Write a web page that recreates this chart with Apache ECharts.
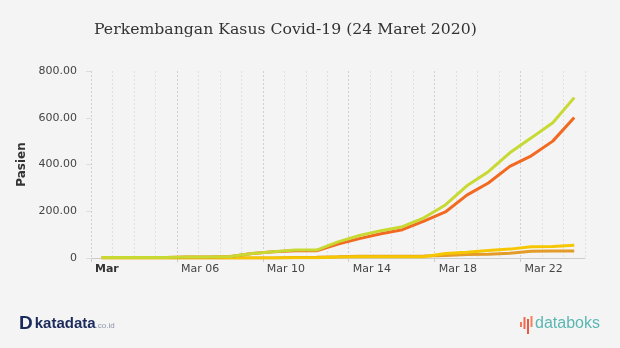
<!DOCTYPE html>
<html>
<head>
<meta charset="utf-8">
<script src="https://cdn.jsdelivr.net/npm/echarts@6/dist/echarts.min.js"></script>
<style>
html,body{margin:0;padding:0;background:#f4f4f4;}
#c{width:620px;height:348px;}
</style>
</head>
<body>
<div id="c"></div>
<script>
// Dates (March 2 .. March 24, 2020)
const dates = ['Mar 02','Mar 03','Mar 04','Mar 05','Mar 06','Mar 07','Mar 08','Mar 09','Mar 10','Mar 11','Mar 12','Mar 13','Mar 14','Mar 15','Mar 16','Mar 17','Mar 18','Mar 19','Mar 20','Mar 21','Mar 22','Mar 23','Mar 24'];
const totalCases = [2,2,2,2,4,4,6,19,27,34,34,69,96,117,134,172,227,309,369,450,514,579,686];
const activeCases = [2,2,2,2,4,4,6,19,27,31,31,60,83,104,121,158,197,269,321,392,437,500,601];
const deaths = [0,0,0,0,0,0,0,0,0,1,1,4,5,5,5,5,19,25,32,38,48,49,55];
const recovered = [0,0,0,0,0,0,0,0,0,2,3,5,8,8,8,9,11,15,16,20,29,30,30];
const xTickIndex = [0,4,8,12,16,20];
const xTickLabels = ['Mar','Mar 06','Mar 10','Mar 14','Mar 18','Mar 22'];
const yTicks = [0,200,400,600,800];

const toPts = arr => arr.map((v,i)=>[i+0.5, v]);

const chart = echarts.init(document.getElementById('c'), null, {renderer:'canvas'});
const mkSeries = (name, arr, color) => ({
  name, type:'line', data: toPts(arr), symbol:'none', smooth:false, xAxisIndex:0,
  lineStyle:{width:3, color}, itemStyle:{color}
});
chart.setOption({
  backgroundColor:'#f4f4f4',
  animation:false,
  title:{
    text:'Perkembangan Kasus Covid-19 (24 Maret 2020)',
    left:89, top:17,
    textStyle:{fontFamily:'DejaVu Serif', fontSize:15.7, fontWeight:'normal', color:'#333'}
  },
  grid:{left:91, right:35, top:71, bottom:90, containLabel:false},
  xAxis:[{
    type:'value', min:0, max:dates.length, interval:1, position:'bottom',
    axisLine:{show:false}, axisTick:{show:false}, axisLabel:{show:false},
    splitLine:{show:true, lineStyle:{type:[2,2], width:1, color:['#d0d0d0','#e0e0e0','#e0e0e0','#e0e0e0']}}
  },{
    type:'value', min:0, max:dates.length, interval:1, position:'bottom',
    axisLine:{show:true, onZero:false, lineStyle:{color:'#cccccc', width:1}},
    axisTick:{show:true, customValues: xTickIndex, length:4, lineStyle:{color:'#cccccc'}},
    axisLabel:{
      customValues: xTickIndex, align:'left', padding:[0,0,0,4], margin:6,
      fontFamily:'DejaVu Sans', fontSize:11, color:'#444',
      formatter: v => { const k = xTickIndex.indexOf(Math.round(v)); if(k<0) return ''; return k===0 ? '{b|'+xTickLabels[k]+'}' : xTickLabels[k]; },
      rich:{b:{fontWeight:'bold', fontFamily:'DejaVu Sans', fontSize:11, color:'#333'}}
    },
    splitLine:{show:false}
  }],
  yAxis:{
    type:'value', min:yTicks[0], max:yTicks[yTicks.length-1], interval:200,
    name:'Pasien', nameLocation:'middle', nameGap:61, nameRotate:90,
    nameTextStyle:{fontFamily:'DejaVu Sans', fontSize:12, fontWeight:'bold', color:'#333'},
    axisLine:{show:false},
    axisTick:{show:true, length:5, lineStyle:{color:'#dddddd'}},
    axisLabel:{margin:14, fontFamily:'DejaVu Sans', fontSize:11, color:'#444',
      formatter: v => v===0 ? '0' : v.toFixed(2)},
    splitLine:{show:false}
  },
  series:[
    mkSeries('Sembuh', recovered, '#e39c2a'),
    mkSeries('Meninggal', deaths, '#f6c700'),
    mkSeries('Dirawat', activeCases, '#f26a21'),
    mkSeries('Positif', totalCases, '#c8d932')
  ],
  graphic:[
    {type:'text', left:19, top:314, style:{
      text:'{d|D}{k|katadata}{c|.co.id}',
      rich:{
        d:{fontFamily:'Liberation Sans', fontWeight:'bold', fontSize:19, fill:'#1b2a5c', padding:[0,2,0,0]},
        k:{fontFamily:'Liberation Sans', fontWeight:'bold', fontSize:15, fill:'#1b2a5c'},
        c:{fontFamily:'Liberation Sans', fontSize:8, fill:'#8a93a8', padding:[5,0,0,0]}
      }
    }},
    {type:'rect', shape:{x:520, y:322, width:2, height:5}, style:{fill:'#f2785a'}},
    {type:'rect', shape:{x:523.5, y:317, width:2, height:12}, style:{fill:'#ee6a4e'}},
    {type:'rect', shape:{x:527, y:319, width:2, height:15}, style:{fill:'#e85a45'}},
    {type:'rect', shape:{x:530.5, y:316, width:2, height:11}, style:{fill:'#f0825c'}},
    {type:'text', left:535, top:316, style:{
      text:'databoks', fontFamily:'Liberation Sans', fontSize:16, fill:'#5bb7b2'
    }}
  ]
});
</script>
</body>
</html>
